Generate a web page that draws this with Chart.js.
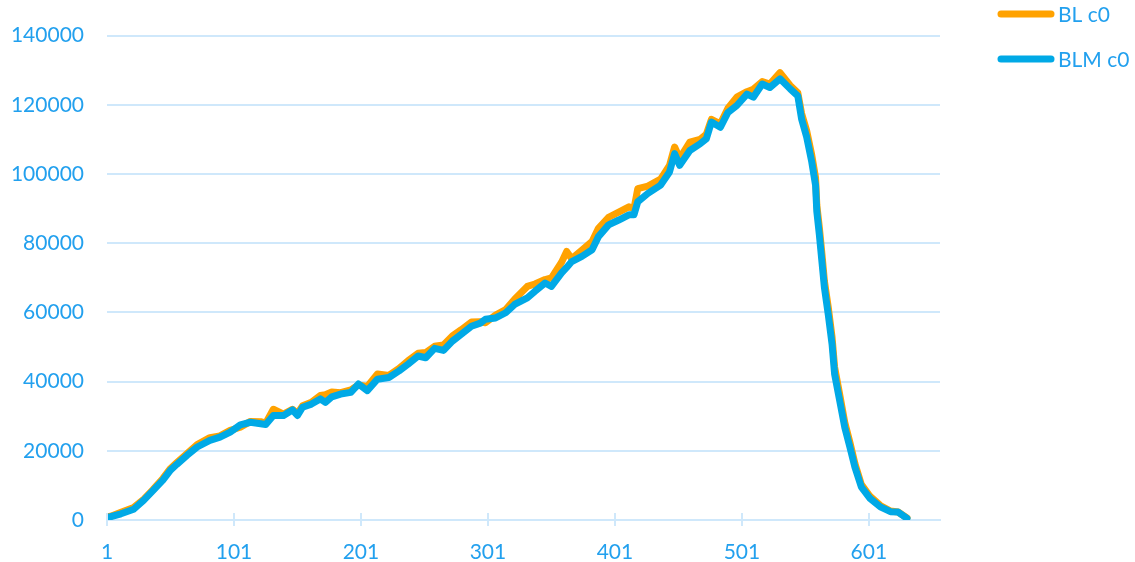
<!DOCTYPE html>
<html>
<head>
<meta charset="utf-8">
<script src="https://cdn.jsdelivr.net/npm/chart.js@4.4.1/dist/chart.umd.min.js"></script>
<style>
  html, body { margin: 0; padding: 0; background: #ffffff; }
  #wrap { width: 1135px; height: 562px; position: relative; }
</style>
</head>
<body>
<div id="wrap"><canvas id="c" width="1135" height="562"></canvas></div>
<script>
// ---- data ----
const seriesNames = ['BL c0', 'BLM c0'];
const xTickLabels = [1, 101, 201, 301, 401, 501, 601];
const yTickValues = [0, 20000, 40000, 60000, 80000, 100000, 120000, 140000];

const sampleX = [1, 4, 12, 22, 30, 37, 45, 51, 56, 64, 72, 82, 90, 98, 106, 114, 122, 126, 132, 140,
  147, 151, 155, 162, 169, 173, 178, 185, 193, 199, 206, 214, 223, 231, 238, 246, 252, 259, 266, 273,
  280, 288, 295, 299, 307, 315, 322, 332, 338, 346, 351, 359, 363, 367, 375, 383, 388, 396, 404, 412,
  416, 419, 427, 437, 444, 448, 452, 460, 468, 473, 477, 484, 490, 497, 505, 510, 517, 523, 531, 539,
  545, 548, 552, 556, 559, 560, 562, 564, 566, 569, 572, 574, 578, 582, 586, 590, 595, 602, 610, 618,
  624, 631];

const blValues = [900, 1100, 2200, 3600, 6000, 8700, 12000, 14900, 16600, 19200, 21800, 23800, 24300, 25900, 26800, 28500, 28400, 28000, 32000, 30600,
  32000, 30800, 33000, 34000, 36000, 36200, 37000, 36800, 37600, 39000, 38600, 42200, 41800, 43800, 46000, 48200, 48400, 50200, 50600, 53200,
  55000, 57200, 57300, 57000, 59200, 60800, 63800, 67500, 68200, 69500, 70000, 74500, 77600, 75500, 78000, 80500, 84300, 87500, 89000, 90500,
  90000, 95800, 96500, 98500, 102500, 107800, 104500, 109200, 110000, 111500, 115800, 114500, 119000, 122200, 123800, 124500, 126700, 126000, 129300, 125600,
  123500, 117500, 112500, 105500, 99000, 91000, 84500, 77000, 69000, 61500, 52800, 44200, 36300, 28200, 22500, 16300, 10300, 6800, 4200, 2600,
  2300, 600];

const blmValues = [800, 950, 1800, 3100, 5750, 8400, 11500, 14400, 16100, 18700, 21100, 23000, 23950, 25400, 27500, 28250, 27800, 27600, 30200, 30200,
  31800, 30200, 32600, 33500, 35000, 34000, 35600, 36400, 36900, 39300, 37400, 40700, 41200, 43100, 45000, 47400, 46900, 49600, 49000, 51700,
  53700, 56000, 56900, 58000, 58400, 59900, 62300, 64200, 66100, 68500, 67500, 71400, 73000, 74700, 76200, 78100, 81900, 85300, 86700, 88200,
  88200, 92000, 94400, 96800, 100600, 105900, 102500, 106800, 108700, 110200, 115000, 113500, 117800, 119800, 123100, 122200, 126000, 125000, 127500, 124600,
  122600, 115900, 110700, 103500, 96800, 89100, 82400, 74700, 67100, 59400, 50800, 42200, 34500, 26800, 21100, 15300, 9600, 6200, 3800, 2400,
  2300, 500];

// ---- styling ----
const TEXT = '#22a0ee';
const GRID = '#cfe8fb';
const COLORS = ['#ffa200', '#00a9e6'];
const FONT_FAMILY = 'Lato, "Open Sans", sans-serif';
Chart.defaults.font.family = FONT_FAMILY;
Chart.defaults.font.size = 21;
Chart.defaults.color = TEXT;

const toPoints = vals => sampleX.map((x, i) => ({ x: x, y: vals[i] }));

const xTickMarks = {
  id: 'xTickMarks',
  afterDatasetsDraw(chart) {
    const ctx = chart.ctx, xs = chart.scales.x, y0 = chart.chartArea.bottom;
    ctx.save();
    ctx.strokeStyle = GRID;
    ctx.lineWidth = 2;
    xTickLabels.forEach(v => {
      const px = Math.round(xs.getPixelForValue(v));
      ctx.beginPath();
      ctx.moveTo(px, y0 - 7);
      ctx.lineTo(px, y0 + 6);
      ctx.stroke();
    });
    ctx.restore();
  }
};

const customLegend = {
  id: 'customLegend',
  afterDraw(chart) {
    const ctx = chart.ctx;
    ctx.save();
    chart.data.datasets.slice().sort((a, b) => a.legendIndex - b.legendIndex).forEach((ds, i) => {
      const y = 14 + i * 45;
      ctx.strokeStyle = ds.borderColor;
      ctx.lineWidth = 7;
      ctx.lineCap = 'round';
      ctx.beginPath();
      ctx.moveTo(1001, y);
      ctx.lineTo(1051, y);
      ctx.stroke();
      ctx.fillStyle = TEXT;
      ctx.font = '21px ' + FONT_FAMILY;
      ctx.textBaseline = 'middle';
      ctx.textAlign = 'left';
      ctx.fillText(ds.label, 1058, y + 1);
    });
    ctx.restore();
  }
};

new Chart(document.getElementById('c'), {
  type: 'line',
  data: {
    datasets: [
      { label: seriesNames[0], legendIndex: 0, data: toPoints(blValues), borderColor: COLORS[0], backgroundColor: COLORS[0], order: 2 },
      { label: seriesNames[1], legendIndex: 1, data: toPoints(blmValues), borderColor: COLORS[1], backgroundColor: COLORS[1], order: 1 }
    ]
  },
  options: {
    responsive: false,
    devicePixelRatio: 1,
    animation: false,
    layout: { padding: { left: 0, right: 195, top: 33, bottom: 0 } },
    elements: {
      line: { borderWidth: 7, tension: 0, borderCapStyle: 'round', borderJoinStyle: 'round', fill: false },
      point: { radius: 0, hoverRadius: 0 }
    },
    plugins: { legend: { display: false }, tooltip: { enabled: false } },
    scales: {
      x: {
        type: 'linear',
        min: 1,
        max: 657,
        afterBuildTicks: s => { s.ticks = xTickLabels.map(v => ({ value: v })); },
        afterFit: s => { s.height = 42; },
        grid: { display: false },
        border: { display: true, color: GRID, width: 2 },
        ticks: { padding: 12, maxRotation: 0, autoSkip: false, callback: v => String(v) }
      },
      y: {
        min: 0,
        max: 140000,
        afterBuildTicks: s => { s.ticks = yTickValues.map(v => ({ value: v })); },
        afterFit: s => { s.width = 107; },
        grid: { color: GRID, lineWidth: 2, drawTicks: false },
        border: { display: false },
        ticks: { padding: 23, callback: v => String(v) }
      }
    }
  },
  plugins: [xTickMarks, customLegend]
});
</script>
</body>
</html>
